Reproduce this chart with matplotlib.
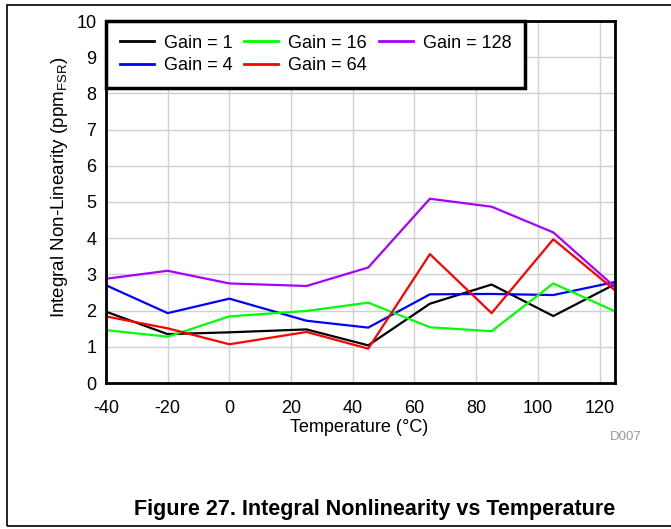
import matplotlib
matplotlib.use('Agg')
import matplotlib.pyplot as plt
from matplotlib.patches import Rectangle

plt.rcParams['font.family'] = ['Liberation Sans', 'DejaVu Sans']
plt.rcParams['axes.unicode_minus'] = False

temps = [-40, -20, 0, 25, 45, 65, 85, 105, 125]
gain1 = [1.97, 1.35, 1.40, 1.48, 1.04, 2.19, 2.72, 1.85, 2.73]
gain4 = [2.70, 1.93, 2.33, 1.72, 1.53, 2.45, 2.46, 2.43, 2.79]
gain16 = [1.46, 1.28, 1.84, 1.99, 2.22, 1.54, 1.43, 2.75, 1.98]
gain64 = [1.84, 1.51, 1.07, 1.41, 0.95, 3.56, 1.93, 3.97, 2.56]
gain128 = [2.88, 3.10, 2.75, 2.68, 3.19, 5.09, 4.87, 4.16, 2.65]

series = [('Gain = 1', gain1, '#000000'),
          ('Gain = 4', gain4, '#0000FF'),
          ('Gain = 16', gain16, '#00FF00'),
          ('Gain = 64', gain64, '#FF0000'),
          ('Gain = 128', gain128, '#A800FF')]

fig = plt.figure(figsize=(6.71, 5.29), dpi=100)
ax = fig.add_axes([106/671, 1-383/529, (615-106)/671, (383-21)/529])

for label, vals, col in series:
    ax.plot(temps, vals, color=col, lw=1.6, label=label)

ax.set_xlim(-40, 125)
ax.set_ylim(0, 10)
ax.set_xticks(range(-40, 121, 20))
ax.set_yticks(range(0, 11))
ax.grid(True, color='#D0D0D0', lw=1)
ax.set_axisbelow(True)
ax.tick_params(length=0, labelsize=13)
ax.tick_params(axis='x', pad=12)
ax.tick_params(axis='y', pad=7)
for s in ax.spines.values():
    s.set_linewidth(2)
ax.set_xlabel('Temperature (°C)', fontsize=13)
ax.set_ylabel('Integral Non-Linearity (ppm$_{\\mathregular{FSR}}$)', fontsize=13.5)
ax.xaxis.set_label_coords((358.7-106)/509, -(427-383)/362, transform=ax.transAxes)
ax.yaxis.set_label_coords(-(106-60)/509, 0.54)
ax.xaxis.label.set_va('center')
ax.yaxis.label.set_va('center')

leg = ax.legend(ncol=3, loc='upper left', bbox_to_anchor=(0, 1), borderaxespad=0,
                fontsize=13, fancybox=False, framealpha=1, edgecolor='black',
                handlelength=1.9, columnspacing=0.65, labelspacing=0.3,
                borderpad=0.75, handletextpad=0.55)
leg.get_frame().set_linewidth(2.5)
for h in leg.legend_handles:
    h.set_linewidth(2)

fig.text(642/671, 1-437/529, 'D007', color='#999999', fontsize=9.5, ha='right', va='center')
fig.text(375/671, 1-509/529, 'Figure 27. Integral Nonlinearity vs Temperature',
         fontsize=15.5, fontweight='bold', ha='center', va='center')

fig.patches.append(Rectangle((7/671, 1-526/529), 1.0, (526-5)/529, transform=fig.transFigure,
                             fill=False, edgecolor='black', lw=1.2))

fig.savefig('out.png', dpi=100)
